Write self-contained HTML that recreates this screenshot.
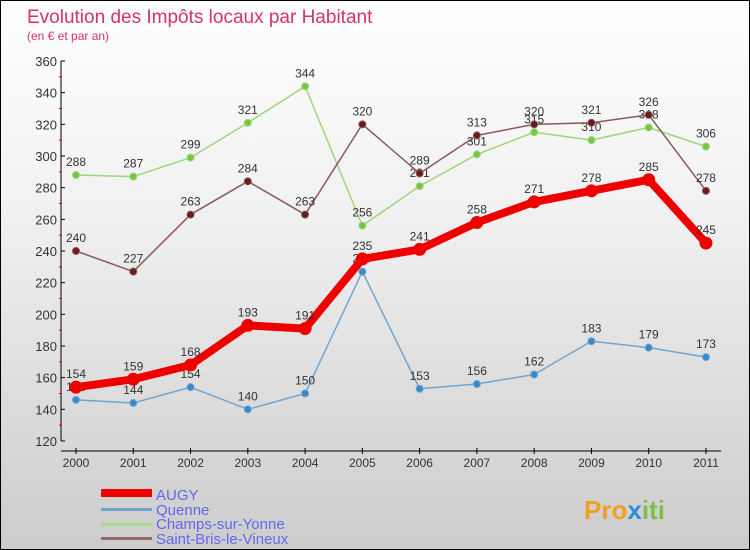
<!DOCTYPE html>
<html><head><meta charset="utf-8"><style>
body{margin:0}
#c{width:748px;height:548px;border:1px solid #000;background:linear-gradient(#fff,#f0f0f0 40%,#ccc);position:relative;font-family:"Liberation Sans",sans-serif;overflow:hidden}
svg text{font-family:"Liberation Sans",sans-serif}
</style></head><body>
<div id="c">
<svg id="s" width="748" height="548">
<text x="26" y="22" font-size="19" fill="#d4336a">Evolution des Impôts locaux par Habitant</text>
<text x="26" y="39" font-size="12" fill="#d4336a">(en € et par an)</text>
<g id="axes"></g><g id="series"></g>
<g>
<rect x="100" y="488" width="51" height="8" fill="#e00"/>
<text x="155" y="499" font-size="15" fill="#6666ee">AUGY</text>
<rect x="100" y="507" width="51" height="3" fill="#6fa6d0"/>
<text x="155" y="514" font-size="15" fill="#6666ee">Quenne</text>
<rect x="100" y="522" width="51" height="3" fill="#a3d98a"/>
<text x="155" y="528" font-size="15" fill="#6666ee">Champs-sur-Yonne</text>
<rect x="100" y="536" width="51" height="3" fill="#946b6b"/>
<text x="155" y="543" font-size="15" fill="#6666ee">Saint-Bris-le-Vineux</text>
</g>
<text x="583" y="518" font-size="26" font-weight="bold" fill="#f0a020">Pro<tspan fill="#2a8fd8">x</tspan><tspan fill="#7bc043">iti</tspan></text>
</svg></div>
<script>
const years=["2000","2001","2002","2003","2004","2005","2006","2007","2008","2009","2010","2011"];
const yTicks=[120,140,160,180,200,220,240,260,280,300,320,340,360];
const augy=[154,159,168,193,191,235,241,258,271,278,285,245];
const quenne=[146,144,154,140,150,227,153,156,162,183,179,173];
const champs=[288,287,299,321,344,256,281,301,315,310,318,306];
const saintBris=[240,227,263,284,263,320,289,313,320,321,326,278];
const NS="http://www.w3.org/2000/svg";
const X=i=>75+i*57.27, Y=v=>440-(v-120)*380/240;
function mk(t,a,p){const e=document.createElementNS(NS,t);for(const k in a)e.setAttribute(k,a[k]);p.appendChild(e);return e;}
const ax=document.getElementById('axes');
let l=mk('line',{x1:60,y1:60,x2:60,y2:440,stroke:'#000'},ax);

l=mk('line',{x1:60,y1:450,x2:720,y2:450,stroke:'#000'},ax);

yTicks.forEach((v,i)=>{mk('line',{x1:60,y1:Y(v),x2:64,y2:Y(v),stroke:'#000'},ax);
 if(i<yTicks.length-1)mk('line',{x1:58,y1:Y(v+10),x2:61,y2:Y(v+10),stroke:'#e00'},ax);
 const t=mk('text',{x:56,y:Y(v)+5,'font-size':13,'text-anchor':'end',fill:'#333'},ax);t.textContent=v;
 });
years.forEach((y,i)=>{mk('line',{x1:X(i),y1:447,x2:X(i),y2:453,stroke:'#000'},ax);
 const t=mk('text',{x:X(i),y:466,'font-size':12,'text-anchor':'middle',fill:'#333'},ax);t.textContent=y;
 });
const sg=document.getElementById('series');
function draw(d,col,dot,w,r,name){const g=mk('g',{},sg);
 
 mk('polyline',{points:d.map((v,i)=>X(i)+','+Y(v)).join(' '),fill:'none',stroke:col,'stroke-width':w,'stroke-linejoin':'round'},g);
 d.forEach((v,i)=>{const c=mk('circle',{cx:X(i),cy:Y(v),r:r,fill:dot,stroke:col,'stroke-width':1},g);
  
  const t=mk('text',{x:X(i),y:Y(v)-9,'font-size':12,'text-anchor':'middle',fill:'#333'},g);t.textContent=v;
  });}
draw(champs,'#9ed67e','#7cc444',1.5,3.5,'champs');
draw(saintBris,'#8a5a5a','#6a1a1a',1.5,3.5,'saint-bris');
draw(quenne,'#6fa6d0','#3a88c8',1.5,3.5,'quenne');
draw(augy,'#ee0000','#ee0000',8,6,'augy');
</script></body></html>
